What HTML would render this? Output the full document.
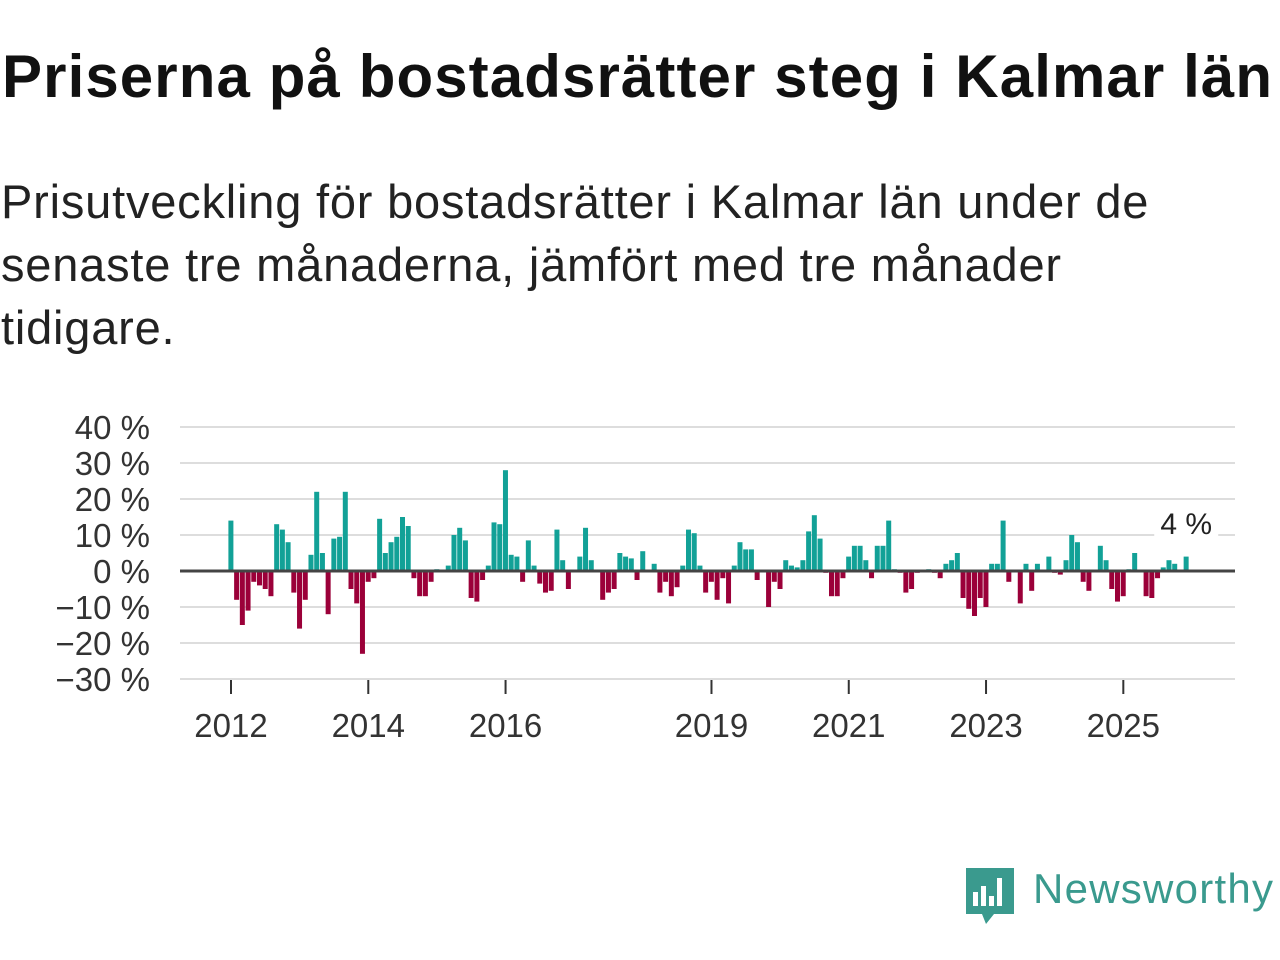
<!DOCTYPE html>
<html><head><meta charset="utf-8"><style>
body{margin:0;width:1280px;height:960px;background:#fff;overflow:hidden;font-family:"Liberation Sans",sans-serif;color:#111}
h1{position:absolute;left:2px;top:42px;margin:0;font-size:60px;font-weight:bold;letter-spacing:1.1px;color:#111;white-space:nowrap}
p{position:absolute;left:1px;top:170px;margin:0;font-size:47px;letter-spacing:0.8px;line-height:63px;color:#222;width:1180px}
svg{position:absolute;left:0;top:0}
</style></head><body>
<h1>Priserna på bostadsrätter steg i Kalmar län</h1>
<p>Prisutveckling för bostadsrätter i Kalmar län under de senaste tre månaderna, jämfört med tre månader tidigare.</p>
<svg id="chart" width="1280" height="960"></svg>
<script>
const values=[14,-8,-15,-11,-3,-4,-5,-7,13,11.5,8,-6,-16,-8,4.5,22,5,-12,9,9.5,22,-5,-9,-23,-3,-2,14.5,5,8,9.5,15,12.5,-2,-7,-7,-3,0.5,0,1.5,10,12,8.5,-7.5,-8.5,-2.5,1.5,13.5,13,28,4.5,4,-3,8.5,1.5,-3.5,-6,-5.5,11.5,3,-5,0,4,12,3,0,-8,-6,-5,5,4,3.5,-2.5,5.5,0,2,-6,-3,-7,-4.5,1.5,11.5,10.5,1.5,-6,-3,-8,-2,-9,1.5,8,6,6,-2.5,0,-10,-3,-5,3,1.5,1,3,11,15.5,9,-0.5,-7,-7,-2,4,7,7,3,-2,7,7,14,0.5,-0.5,-6,-5,-0.5,0,0.5,-0.5,-2,2,3,5,-7.5,-10.5,-12.5,-7.5,-10,2,2,14,-3,0,-9,2,-5.5,2,0,4,-0.5,-1,3,10,8,-3,-5.5,0,7,3,-5,-8.5,-7,0.5,5,0,-7,-7.5,-2,1,3,2,0,4];
const yTicks=[40,30,20,10,0,-10,-20,-30];
const xYears=[2012,2014,2016,2019,2021,2023,2025];
const startYear=2012;
const NS="http://www.w3.org/2000/svg";
const svg=document.getElementById('chart');
const y=v=>571-v*3.6;
const xi=i=>231+i*5.72;
const xYear=yr=>xi((yr-startYear)*12);
function mk(t,a){const e=document.createElementNS(NS,t);for(const k in a)e.setAttribute(k,a[k]);svg.appendChild(e);return e;}
yTicks.forEach(t=>{
 if(t!==0){const g=mk('line',{x1:180,x2:1235,y1:y(t),y2:y(t),stroke:'#ddd','stroke-width':2});
 
 }
 const l=mk('text',{x:150,y:y(t)+12,'text-anchor':'end','font-size':33,fill:'#333','font-family':'Liberation Sans, sans-serif'});
 l.textContent=(t<0?'−'+(-t):t)+' %';
 
 
});
values.forEach((v,i)=>{
 const r=mk('rect',{x:xi(i)-2.6,width:5,y:v>=0?y(v):y(0),height:Math.abs(v)*3.6,fill:v>=0?'#12a197':'#9b0039'});
 
 
});
const z=mk('line',{x1:180,x2:1235,y1:y(0),y2:y(0),stroke:'#444','stroke-width':3});


xYears.forEach(yr=>{
 const tk=mk('line',{x1:xYear(yr),x2:xYear(yr),y1:680,y2:694,stroke:'#333','stroke-width':2});
 
 
 const l=mk('text',{x:xYear(yr),y:737,'text-anchor':'middle','font-size':33,fill:'#333','font-family':'Liberation Sans, sans-serif'});
 l.textContent=yr;
 
 
});
const last=values.length-1;
const bg=mk('rect',{x:xi(last)-32,y:505,width:64,height:34,fill:'#fff'});


const an=mk('text',{x:xi(last),y:534,'text-anchor':'middle','font-size':30,fill:'#222','font-family':'Liberation Sans, sans-serif'});
an.textContent=Math.round(values[last])+' %';


</script>
<svg width="1280" height="960" style="pointer-events:none">
<path d="M966 868 h48 v46 l-20 0 l-8 10 l-4 -10 h-16 z" fill="#3a9a8e"/>
<rect x="973" y="892" width="5" height="14" fill="#fff"/><rect x="981" y="886" width="5" height="20" fill="#fff"/><rect x="989" y="896" width="5" height="10" fill="#fff"/><rect x="997" y="878" width="5" height="28" fill="#fff"/>
<text x="1033" y="903" font-size="42" fill="#3a9a8e" font-family="Liberation Sans, sans-serif" textLength="240">Newsworthy</text>
</svg>
</body></html>
